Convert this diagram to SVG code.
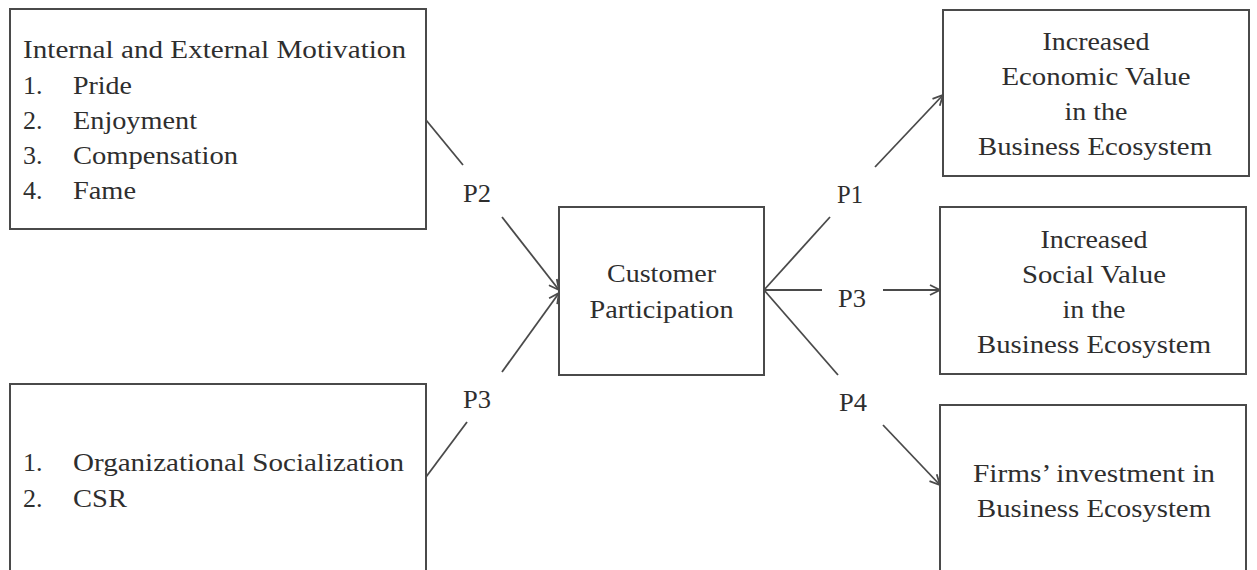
<svg xmlns="http://www.w3.org/2000/svg" width="1257" height="570" viewBox="0 0 1257 570">
  <style>
    .box { fill: #ffffff; stroke: #4a4a4a; stroke-width: 2; }
    .t { font-family: "Liberation Serif", "Times New Roman", Times, serif; font-size: 26px; fill: #2e2e2e; }
    .c { text-anchor: middle; }
    .link { fill: none; stroke: #4a4a4a; stroke-width: 1.8; }
  </style>
  <defs>
    <marker id="arrow" viewBox="0 0 12 12" refX="11" refY="6" markerWidth="12" markerHeight="12" markerUnits="userSpaceOnUse" orient="auto">
      <path d="M1,1 L11,6 L1,11" fill="none" stroke="#4a4a4a" stroke-width="1.8"/>
    </marker>
  </defs>
  <rect width="1257" height="570" fill="#ffffff"/>

  <!-- Motivation drivers -->
  <g id="motivation">
    <rect class="box" x="10" y="9" width="416" height="220"/>
    <text class="t" x="23" y="58" textLength="383" lengthAdjust="spacingAndGlyphs">Internal and External Motivation</text>
    <text class="t" x="23" y="94">1.</text>
    <text class="t" x="73" y="94" textLength="59" lengthAdjust="spacingAndGlyphs">Pride</text>
    <text class="t" x="23" y="129">2.</text>
    <text class="t" x="73" y="129" textLength="124" lengthAdjust="spacingAndGlyphs">Enjoyment</text>
    <text class="t" x="23" y="164">3.</text>
    <text class="t" x="73" y="164" textLength="165" lengthAdjust="spacingAndGlyphs">Compensation</text>
    <text class="t" x="23" y="199">4.</text>
    <text class="t" x="73" y="199" textLength="63" lengthAdjust="spacingAndGlyphs">Fame</text>
  </g>

  <!-- Organizational drivers -->
  <g id="organizational">
    <rect class="box" x="10" y="384" width="416" height="200"/>
    <text class="t" x="23" y="471">1.</text>
    <text class="t" x="73" y="471" textLength="331" lengthAdjust="spacingAndGlyphs">Organizational Socialization</text>
    <text class="t" x="23" y="507">2.</text>
    <text class="t" x="73" y="507" textLength="54" lengthAdjust="spacingAndGlyphs">CSR</text>
  </g>

  <!-- Central construct -->
  <g id="participation">
    <rect class="box" x="559" y="207" width="205" height="168"/>
    <text class="t c" x="661.5" y="282" textLength="109" lengthAdjust="spacingAndGlyphs">Customer</text>
    <text class="t c" x="661.5" y="318" textLength="144" lengthAdjust="spacingAndGlyphs">Participation</text>
  </g>

  <!-- Outcomes -->
  <g id="economic">
    <rect class="box" x="943" y="10" width="306" height="166"/>
    <text class="t c" x="1096" y="50" textLength="107" lengthAdjust="spacingAndGlyphs">Increased</text>
    <text class="t c" x="1096" y="85" textLength="189" lengthAdjust="spacingAndGlyphs">Economic Value</text>
    <text class="t c" x="1096" y="120" textLength="63" lengthAdjust="spacingAndGlyphs">in the</text>
    <text class="t c" x="1095" y="155" textLength="234" lengthAdjust="spacingAndGlyphs">Business Ecosystem</text>
  </g>

  <g id="social">
    <rect class="box" x="940" y="207" width="306" height="167"/>
    <text class="t c" x="1094" y="248" textLength="107" lengthAdjust="spacingAndGlyphs">Increased</text>
    <text class="t c" x="1094" y="283" textLength="144" lengthAdjust="spacingAndGlyphs">Social Value</text>
    <text class="t c" x="1094" y="318" textLength="63" lengthAdjust="spacingAndGlyphs">in the</text>
    <text class="t c" x="1094" y="353" textLength="234" lengthAdjust="spacingAndGlyphs">Business Ecosystem</text>
  </g>

  <g id="investment">
    <rect class="box" x="940" y="405" width="306" height="180"/>
    <text class="t c" x="1094" y="482" textLength="242" lengthAdjust="spacingAndGlyphs">Firms’ investment in</text>
    <text class="t c" x="1094" y="517" textLength="234" lengthAdjust="spacingAndGlyphs">Business Ecosystem</text>
  </g>

  <!-- Proposition paths -->
  <g id="connectors">
    <line class="link" x1="426" y1="120" x2="463" y2="165"/>
    <line class="link" x1="502" y1="217" x2="559" y2="290" marker-end="url(#arrow)"/>
    <text class="t c" x="477" y="202" textLength="28" lengthAdjust="spacingAndGlyphs">P2</text>

    <line class="link" x1="426" y1="477" x2="467" y2="422"/>
    <line class="link" x1="502" y1="372" x2="559" y2="293" marker-end="url(#arrow)"/>
    <text class="t c" x="477" y="408" textLength="28" lengthAdjust="spacingAndGlyphs">P3</text>

    <line class="link" x1="764" y1="290" x2="830" y2="217"/>
    <line class="link" x1="875" y1="167" x2="943" y2="95" marker-end="url(#arrow)"/>
    <text class="t c" x="850" y="203" textLength="26" lengthAdjust="spacingAndGlyphs">P1</text>

    <line class="link" x1="764" y1="290" x2="822" y2="290"/>
    <line class="link" x1="883" y1="290" x2="940" y2="290" marker-end="url(#arrow)"/>
    <text class="t c" x="852" y="307" textLength="28" lengthAdjust="spacingAndGlyphs">P3</text>

    <line class="link" x1="764" y1="290" x2="838" y2="375"/>
    <line class="link" x1="883" y1="425" x2="940" y2="485" marker-end="url(#arrow)"/>
    <text class="t c" x="853" y="411" textLength="28" lengthAdjust="spacingAndGlyphs">P4</text>
  </g>
</svg>
